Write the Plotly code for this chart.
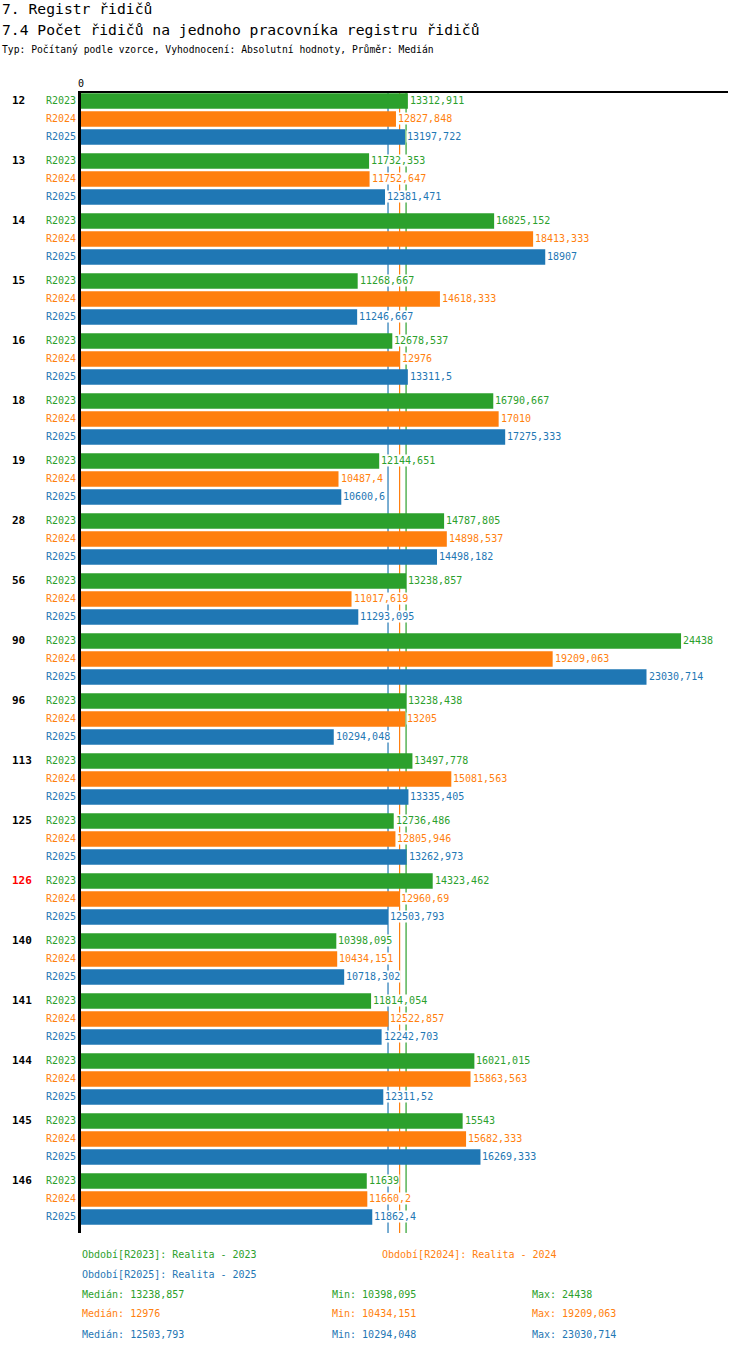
import numpy as np
import plotly.graph_objects as go

categories = ["12", "13", "14", "15", "16", "18", "19", "28", "56", "90", "96",
              "113", "125", "126", "140", "141", "144", "145", "146"]
highlighted = ["126"]

series_names = ["R2023", "R2024", "R2025"]
series_titles = ["Realita - 2023", "Realita - 2024", "Realita - 2025"]

r2023 = [13312.911, 11732.353, 16825.152, 11268.667, 12678.537, 16790.667, 12144.651,
         14787.805, 13238.857, 24438, 13238.438, 13497.778, 12736.486, 14323.462,
         10398.095, 11814.054, 16021.015, 15543, 11639]
r2024 = [12827.848, 11752.647, 18413.333, 14618.333, 12976, 17010, 10487.4,
         14898.537, 11017.619, 19209.063, 13205, 15081.563, 12805.946, 12960.69,
         10434.151, 12522.857, 15863.563, 15682.333, 11660.2]
r2025 = [13197.722, 12381.471, 18907, 11246.667, 13311.5, 17275.333, 10600.6,
         14498.182, 11293.095, 23030.714, 10294.048, 13335.405, 13262.973, 12503.793,
         10718.302, 12242.703, 12311.52, 16269.333, 11862.4]

colors = ["#2ca02c", "#ff7f0e", "#1f77b4"]
FONT = "DejaVu Sans Mono"

W, H = 750, 1352
L, R, T, B = 81, 22, 93, 119
PW, PH = W - L - R, H - T - B


def fmt(v):
    s = f"{v:.3f}".rstrip("0").rstrip(".")
    return s.replace(".", ",")


def px(x):
    return (x - L) / PW


def py(y):
    return (H - B - y) / PH


all_series = [r2023, r2024, r2025]
fig = go.Figure()
annotations = []
shapes = []

for i, (name, vals) in enumerate(zip(series_names, all_series)):
    fig.add_trace(go.Bar(
        name=name, y=categories, x=vals, orientation="h",
        marker=dict(color=colors[i], line=dict(width=0)),
        hoverinfo="x+name",
    ))
    shift = 18 - 18 * i
    # category axis: annotations placed by category index
    for j, v in enumerate(vals):
        annotations.append(dict(
            x=v, y=j, xref="x", yref="y", text=fmt(v), showarrow=False,
            xanchor="left", yanchor="middle", xshift=1, yshift=shift,
            bgcolor="white", borderpad=0,
            font=dict(family=FONT, size=10, color=colors[i])))
        annotations.append(dict(
            x=0, y=j, xref="paper", yref="y", text=name, showarrow=False,
            xanchor="right", yanchor="middle", xshift=-3, yshift=shift,
            font=dict(family=FONT, size=10, color=colors[i])))
    med = float(np.median(vals))
    shapes.append(dict(type="line", xref="x", yref="paper", x0=med, x1=med,
                       y0=0, y1=1, layer="below",
                       line=dict(color=colors[i], width=1.2)))

for j, c in enumerate(categories):
    annotations.append(dict(
        x=px(10), y=j, xref="paper", yref="y", text=f"<b>{c}</b>", showarrow=False,
        xanchor="left", yanchor="middle", yshift=18,
        font=dict(family=FONT, size=11, color="red" if c in highlighted else "black")))

# titles
titles = [("7. Registr řidičů", 8, 14.7),
          ("7.4 Počet řidičů na jednoho pracovníka registru řidičů", 30, 14.7),
          ("Typ: Počítaný podle vzorce, Vyhodnocení: Absolutní hodnoty, Průměr: Medián", 50, 9.7)]
for text, y, size in titles:
    annotations.append(dict(x=px(0), y=py(y), xref="paper", yref="paper", text=text,
                            showarrow=False, xanchor="left", yanchor="middle",
                            font=dict(family=FONT, size=size, color="black")))

# legend / footer
legend_pos = [(80, 1254), (380, 1254), (80, 1274)]
for i, (x, y) in enumerate(legend_pos):
    annotations.append(dict(x=px(x), y=py(y), xref="paper", yref="paper",
                            text=f"Období[{series_names[i]}]: {series_titles[i]}",
                            showarrow=False, xanchor="left", yanchor="middle",
                            font=dict(family=FONT, size=10, color=colors[i])))

for i, vals in enumerate(all_series):
    y = 1294 + 20 * i
    stats = [(80, "Medián", np.median(vals)), (330, "Min", min(vals)), (530, "Max", max(vals))]
    for x, label, v in stats:
        annotations.append(dict(x=px(x), y=py(y), xref="paper", yref="paper",
                                text=f"{label}: {fmt(float(v))}",
                                showarrow=False, xanchor="left", yanchor="middle",
                                font=dict(family=FONT, size=10, color=colors[i])))

fig.update_layout(
    width=W, height=H,
    margin=dict(l=L, r=R, t=T, b=B),
    paper_bgcolor="white", plot_bgcolor="white",
    barmode="group", bargap=0.1, bargroupgap=0.14,
    showlegend=False,
    font=dict(family=FONT, size=10, color="black"),
    xaxis=dict(side="top", range=[0, 26350], showgrid=False, zeroline=False,
               showline=True, linecolor="black", linewidth=1.5,
               tickmode="array", tickvals=[0], ticktext=["0"], ticks="",
               tickfont=dict(family=FONT, size=10, color="black")),
    yaxis=dict(type="category", categoryorder="array", categoryarray=categories,
               range=[18.567, -0.433], showgrid=False, zeroline=False,
               showline=True, linecolor="black", linewidth=3,
               showticklabels=False, ticks=""),
    shapes=shapes,
    annotations=annotations,
)

fig.write_html("out.html", config={"displayModeBar": False},
               post_script="document.body.style.margin='0';")
